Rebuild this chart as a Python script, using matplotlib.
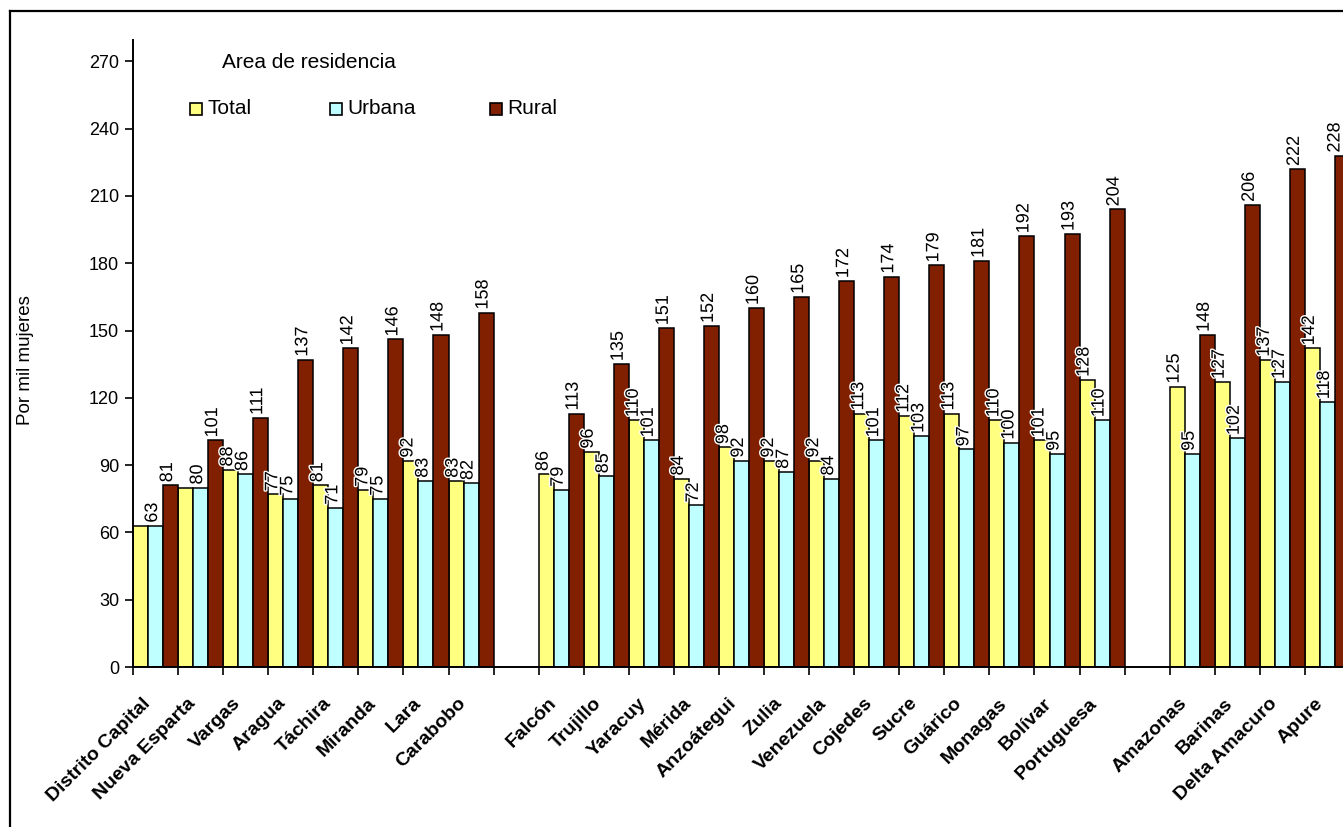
import numpy as np
import matplotlib.pyplot as plt
import matplotlib.patheffects as pe
from matplotlib.lines import Line2D
from matplotlib.patches import Rectangle

plt.rcParams['font.family'] = ['Liberation Sans', 'DejaVu Sans']

# Tasa por mil mujeres, según área de residencia
estados_1 = ['Distrito Capital', 'Nueva Esparta', 'Vargas', 'Aragua', 'Táchira',
             'Miranda', 'Lara', 'Carabobo']
total_1 = [63, 80, 88, 77, 81, 79, 92, 83]
urbana_1 = [63, 80, 86, 75, 71, 75, 83, 82]
rural_1 = [81, 101, 111, 137, 142, 146, 148, 158]

estados_2 = ['Falcón', 'Trujillo', 'Yaracuy', 'Mérida', 'Anzoátegui', 'Zulia',
             'Venezuela', 'Cojedes', 'Sucre', 'Guárico', 'Monagas', 'Bolívar',
             'Portuguesa']
total_2 = [86, 96, 110, 84, 98, 92, 92, 113, 112, 113, 110, 101, 128]
urbana_2 = [79, 85, 101, 72, 92, 87, 84, 101, 103, 97, 100, 95, 110]
rural_2 = [113, 135, 151, 152, 160, 165, 172, 174, 179, 181, 192, 193, 204]

estados_3 = ['Amazonas', 'Barinas', 'Delta Amacuro', 'Apure']
total_3 = [125, 127, 137, 142]
urbana_3 = [95, 102, 127, 118]
rural_3 = [148, 206, 222, 228]

grupos = [
    (estados_1, total_1, urbana_1, rural_1),
    (estados_2, total_2, urbana_2, rural_2),
    (estados_3, total_3, urbana_3, rural_3),
]

c_total = '#ffff80'
c_urbana = '#c0ffff'
c_rural = '#802000'

W, H = 1343, 827
fig = plt.figure(figsize=(W / 100, H / 100), dpi=100)
ax = fig.add_axes([133 / W, (H - 667) / H, (1350 - 133) / W, (667 - 40) / H])

# un hueco vacío entre grupos
nombres, pos, tot, urb, rur = [], [], [], [], []
inicio = 0
for est, t, u, r in grupos:
    nombres += est
    pos += list(range(inicio, inicio + len(est)))
    tot += t
    urb += u
    rur += r
    inicio += len(est) + 1
pos = np.array(pos, dtype=float)
n_slots = inicio - 1

w = 1 / 3
kw = dict(width=w, align='edge', edgecolor='black', linewidth=1.1)
ax.bar(pos, tot, color=c_total, **kw)
ax.bar(pos + w, urb, color=c_urbana, **kw)
ax.bar(pos + 2 * w, rur, color=c_rural, **kw)

ax.set_xlim(0, n_slots)
ax.set_ylim(0, 279.5)

halo = [pe.withStroke(linewidth=2, foreground='white')]


def etiqueta(x, v):
    # la última barra queda cortada por el borde: la etiqueta se corre a la izquierda
    px = ax.transData.transform((x, v))[0]
    dx = min(-3, W - 8 - px)
    ax.annotate(str(v), (x, v), xytext=(dx, 3), textcoords='offset pixels',
                rotation=90, ha='center', va='bottom', fontsize=13,
                path_effects=halo)


for i, x in enumerate(pos):
    if tot[i] != urb[i]:
        etiqueta(x + w / 2, tot[i])
    etiqueta(x + 1.5 * w, urb[i])
    etiqueta(x + 2.5 * w, rur[i])

ax.set_yticks(np.arange(0, 271, 30))
ax.tick_params(axis='y', direction='out', length=6, width=1.2, labelsize=13, pad=4)

ax.set_xticks(np.arange(0, n_slots + 1))
ax.set_xticklabels([])
ax.tick_params(axis='x', which='major', direction='out', length=6, width=1.2)
ax.set_xticks(pos + 0.2, minor=True)
ax.set_xticklabels(nombres, minor=True, rotation=45, ha='right',
                   rotation_mode='anchor', fontsize=14, fontweight='bold')
ax.tick_params(axis='x', which='minor', length=0, pad=20)

for s in ['top', 'right']:
    ax.spines[s].set_visible(False)
for s in ['left', 'bottom']:
    ax.spines[s].set_linewidth(1.4)

fig.text(25 / W, 1 - 360 / H, 'Por mil mujeres', rotation=90,
         ha='center', va='center', fontsize=13.5)

# leyenda
fig.text(222 / W, 1 - 63 / H, 'Area de residencia', ha='left', va='center', fontsize=15)
for x0, col, txt in [(190, c_total, 'Total'), (330, c_urbana, 'Urbana'),
                     (490, c_rural, 'Rural')]:
    fig.add_artist(Rectangle((x0 / W, 1 - 115 / H), 12 / W, 12 / H,
                             facecolor=col, edgecolor='black', linewidth=1.2,
                             transform=fig.transFigure))
    fig.text((x0 + 17) / W, 1 - 109 / H, txt, ha='left', va='center', fontsize=15)

# marco exterior
fig.add_artist(Line2D([10 / W, 10 / W], [0, 1 - 11 / H], color='black', linewidth=1.6))
fig.add_artist(Line2D([10 / W, 1], [1 - 11 / H, 1 - 11 / H], color='black', linewidth=1.6))

fig.savefig('out.png', dpi=100)
